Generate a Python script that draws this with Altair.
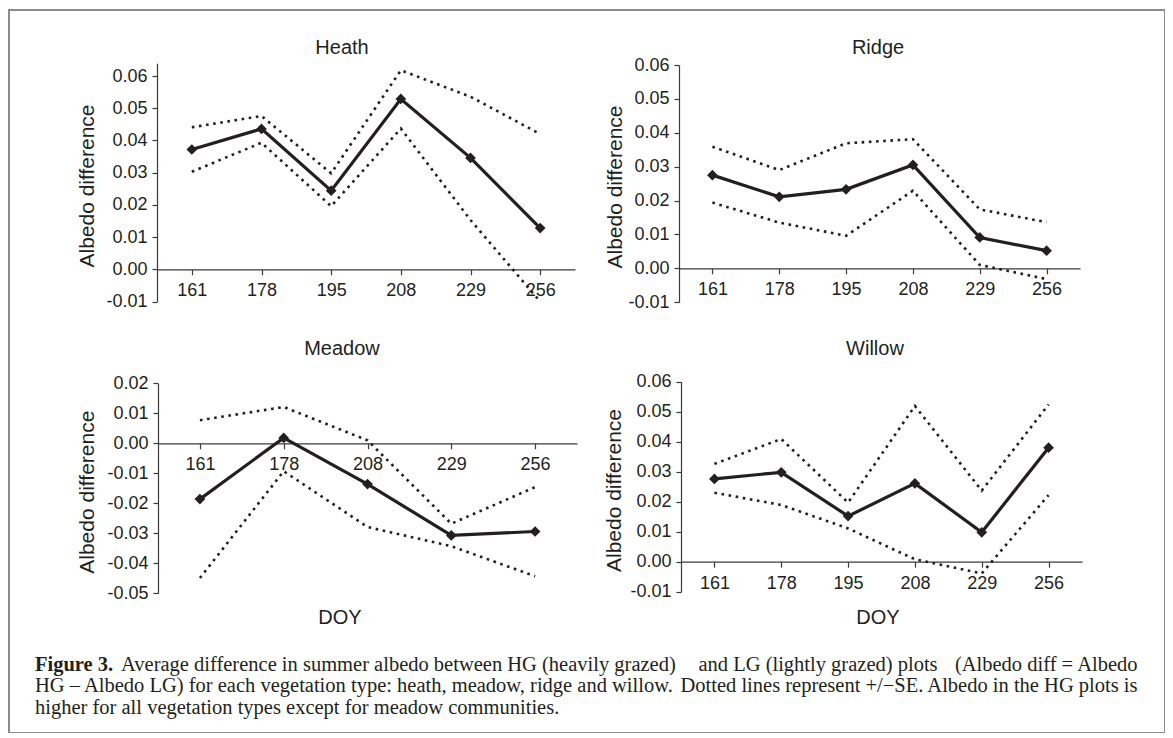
import altair as alt
import pandas as pd

# ---------------- data ----------------
doy6 = ["161", "178", "195", "208", "229", "256"]
doy5 = ["161", "178", "208", "229", "256"]

heath_mean = [0.0372, 0.0436, 0.0244, 0.0529, 0.0346, 0.0128]
heath_upper = [0.0441, 0.0476, 0.0298, 0.0618, 0.0536, 0.0420]
heath_lower = [0.0303, 0.0393, 0.0196, 0.0437, 0.0153, -0.0100]

ridge_mean = [0.0275, 0.0211, 0.0233, 0.0305, 0.0091, 0.0052]
ridge_upper = [0.0359, 0.0290, 0.0369, 0.0381, 0.0174, 0.0136]
ridge_lower = [0.0194, 0.0135, 0.0096, 0.0229, 0.0010, -0.0032]

meadow_mean = [-0.0186, 0.0018, -0.0136, -0.0307, -0.0294]
meadow_upper = [0.0077, 0.0121, 0.0010, -0.0268, -0.0146]
meadow_lower = [-0.0449, -0.0093, -0.0279, -0.0343, -0.0443]

willow_mean = [0.0276, 0.0298, 0.0152, 0.0261, 0.0098, 0.0380]
willow_upper = [0.0326, 0.0409, 0.0197, 0.0519, 0.0237, 0.0524]
willow_lower = [0.0230, 0.0189, 0.0111, 0.0008, -0.0039, 0.0222]

ticks_a = [-0.01, 0.0, 0.01, 0.02, 0.03, 0.04, 0.05, 0.06]
ticks_m = [-0.05, -0.04, -0.03, -0.02, -0.01, 0.0, 0.01, 0.02]

panel_names = ["Heath", "Ridge", "Meadow", "Willow"]
y_title = "Albedo difference"
x_title = "DOY"

caption_bold = "Figure 3."
caption_1a = "Average difference in summer albedo between HG (heavily grazed)"
caption_1b = "and LG (lightly grazed) plots"
caption_1c = "(Albedo diff = Albedo"
caption_2a = "HG \u2013 Albedo LG) for each vegetation type: heath, meadow, ridge and willow."
caption_2b = "Dotted lines represent +/\u2212SE. Albedo in the HG plots is"
caption_3 = "higher for all vegetation types except for meadow communities."

# ---------------- style ----------------
INK = "#231f20"
AXIS = "#3a3a3a"
SANS = "Liberation Sans"
SERIF = "Liberation Serif"
CAP = 20.5
W, H = 1156, 723


def panel(cats, mean, upper, lower, xr, yr, ydom, yvals, y_off, x_off, tx, ty):
    n = len(cats)
    df = pd.DataFrame({
        "doy": cats * 3,
        "series": ["mean"] * n + ["upper"] * n + ["lower"] * n,
        "value": mean + upper + lower,
    })
    base = alt.Chart(df).encode(
        x=alt.X(
            "doy:N", sort=cats,
            scale=alt.Scale(domain=cats, range=xr, padding=0.5),
            axis=alt.Axis(
                orient="bottom", offset=x_off, title=None, labelAngle=0,
                labelFont=SANS, labelFontSize=18, labelColor=INK, labelPadding=7,
                tickSize=5.5, tickColor=AXIS, tickWidth=1.2,
                domainColor=AXIS, domainWidth=1.2, grid=False, labelOverlap=False,
            ),
        ),
        y=alt.Y(
            "value:Q",
            scale=alt.Scale(domain=ydom, range=yr, nice=False, zero=False),
            axis=alt.Axis(
                orient="left", offset=y_off, values=yvals, format=".2f",
                labelExpr="replace(datum.label, '\u2212', '-')",
                labelFont=SANS, labelFontSize=18, labelColor=INK, labelPadding=5,
                tickSize=5, tickColor=AXIS, tickWidth=1.2,
                domainColor=AXIS, domainWidth=1.2, grid=False, labelOverlap=False,
                title=y_title, titleFont=SANS, titleFontSize=21, titleFontWeight="normal",
                titleColor=INK, titleX=tx, titleY=ty, titleAngle=270,
                titleAlign="center", titleBaseline="middle",
            ),
        ),
    )
    dotted = base.transform_filter("datum.series != 'mean'").mark_line(
        color=INK, strokeWidth=2.6, strokeDash=[2.6, 4.6]
    ).encode(detail="series:N")
    line = base.transform_filter("datum.series == 'mean'").mark_line(
        color=INK, strokeWidth=3.2
    )
    pts = base.transform_filter("datum.series == 'mean'").mark_point(
        shape="diamond", filled=True, size=115, color=INK, opacity=1
    )
    return alt.layer(dotted, line, pts)


heath = panel(doy6, heath_mean, heath_upper, heath_lower,
              [148, 566], [291.5, 53.2], [-0.01, 0.064], ticks_a,
              -148, -463.7, -70, 175.5)
ridge = panel(doy6, ridge_mean, ridge_upper, ridge_lower,
              [670, 1071], [292.2, 55.0], [-0.01, 0.06], ticks_a,
              -670, -464.7, -64, 176.5)
meadow = panel(doy5, meadow_mean, meadow_upper, meadow_lower,
               [149, 568], [583.3, 373.3], [-0.05, 0.02], ticks_m,
               -149, -289.7, -71, 481.7)
willow = panel(doy6, willow_mean, willow_upper, willow_lower,
               [672, 1073], [581.7, 371.7], [-0.01, 0.06], ticks_a,
               -672, -171.3, -67, 480)


def label(txt, x, y, size=20, font=SANS, align="center", weight="normal", baseline="middle"):
    return alt.Chart(pd.DataFrame({"t": [txt]})).mark_text(
        font=font, fontSize=size, color=INK, align=align, baseline=baseline, fontWeight=weight
    ).encode(text="t:N", x=alt.value(x), y=alt.value(y))


title_pos = [(333, 38), (869, 38), (333, 339), (866, 339)]
texts = [label(nm, px, py) for nm, (px, py) in zip(panel_names, title_pos)]
texts += [label(x_title, 331, 608), label(x_title, 869, 608)]

texts += [
    label(caption_bold, 26, 660.5, size=CAP, font=SERIF, align="left", weight="bold", baseline="alphabetic"),
    label(caption_1a, 112, 660.5, size=CAP, font=SERIF, align="left", baseline="alphabetic"),
    label(caption_1b, 809, 660.5, size=CAP, font=SERIF, align="center", baseline="alphabetic"),
    label(caption_1c, 1128.5, 660.5, size=CAP, font=SERIF, align="right", baseline="alphabetic"),
    label(caption_2a, 26, 682, size=CAP, font=SERIF, align="left", baseline="alphabetic"),
    label(caption_2b, 1128.5, 682, size=CAP, font=SERIF, align="right", baseline="alphabetic"),
    label(caption_3, 26, 703.5, size=CAP, font=SERIF, align="left", baseline="alphabetic"),
]

chart = alt.layer(heath, ridge, meadow, willow, *texts).resolve_scale(
    x="independent", y="independent"
).resolve_axis(
    x="independent", y="independent"
).properties(
    width=W, height=H,
    padding={"left": 1, "top": 2, "right": 0, "bottom": 0},
    background="white",
).configure_view(stroke="#8c8c8c", strokeWidth=2)

chart.save("out.html", embed_options={"renderer": "svg", "actions": False})
